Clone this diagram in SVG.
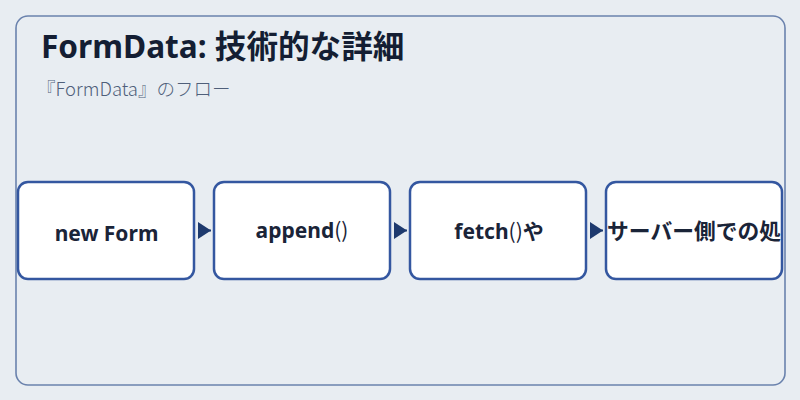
<svg xmlns="http://www.w3.org/2000/svg" width="800" height="400" viewBox="0 0 800 400">
  <defs>
    <style>
      .frame { fill: #e8edf2; stroke: #6a82ad; stroke-width: 1.6; }
      .node rect { fill: #ffffff; stroke: #3457a0; stroke-width: 2.5; }
      .node text { font-family: "Noto Sans", "Noto Sans CJK JP", sans-serif; font-weight: 700; font-size: 21px; fill: #1a2438; text-anchor: middle; }
      .paren { font-family: "Noto Sans CJK JP", sans-serif; font-weight: 400; }
      .title { font-family: "Noto Sans", "Noto Sans CJK JP", sans-serif; font-weight: 700; font-size: 31.6px; fill: #141e33; }
      .subtitle { font-family: "Noto Sans CJK JP", sans-serif; font-weight: 300; font-size: 18.5px; fill: #4f5f7a; }
      .conn { stroke: #1e3a6e; stroke-width: 2; fill: none; }
    </style>
    <marker id="arrow" viewBox="0 0 13 17" refX="13" refY="8.5" markerWidth="13" markerHeight="17" markerUnits="userSpaceOnUse" orient="auto">
      <path d="M0,0 L13,8.5 L0,17 Z" fill="#1e3a6e"/>
    </marker>
    <clipPath id="c4"><rect x="607" y="183" width="174" height="95"/></clipPath>
  </defs>
  <rect width="800" height="400" fill="#e8edf2"/>
  <rect class="frame" x="16" y="16" width="769" height="369" rx="12"/>
  <text class="title" x="41" y="58">FormData: 技術的な詳細</text>
  <text class="subtitle" x="37" y="96">『FormData』のフロー</text>
  <g id="connectors">
    <path class="conn" d="M198,230.5 L211,230.5" marker-end="url(#arrow)"/>
    <path class="conn" d="M394,230.5 L407,230.5" marker-end="url(#arrow)"/>
    <path class="conn" d="M590,230.5 L603,230.5" marker-end="url(#arrow)"/>
  </g>
  <g id="node1" class="node">
    <rect x="18" y="182" width="176" height="97" rx="10"/>
    <text x="106.5" y="241">new Form</text>
  </g>
  <g id="node2" class="node">
    <rect x="214" y="182" width="176" height="97" rx="10"/>
    <text x="302" y="238">append<tspan class="paren">()</tspan></text>
  </g>
  <g id="node3" class="node">
    <rect x="410" y="182" width="176" height="97" rx="10"/>
    <text x="499" y="239">fetch<tspan class="paren">()</tspan>や</text>
  </g>
  <g id="node4" class="node">
    <rect x="606" y="182" width="176" height="97" rx="10"/>
    <text x="694" y="239" clip-path="url(#c4)" style="font-size:21.75px">サーバー側での処</text>
  </g>
</svg>
